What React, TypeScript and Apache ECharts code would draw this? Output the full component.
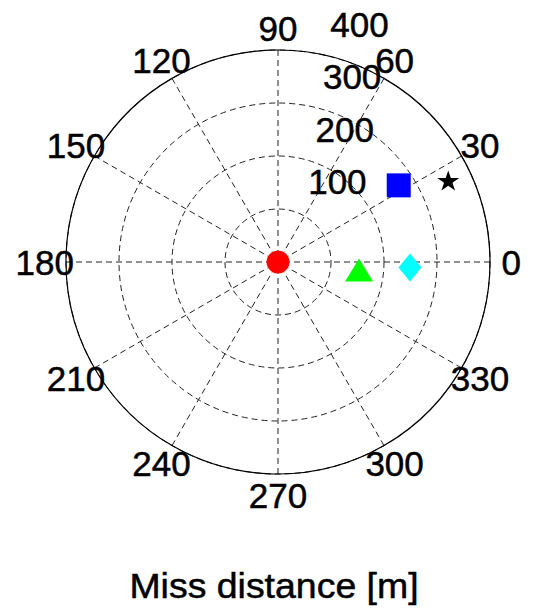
import React, { useEffect, useRef } from 'react';
import * as echarts from 'echarts';

// Axis ticks
const angleTicks = [0, 30, 60, 90, 120, 150, 180, 210, 240, 270, 300, 330];
const radiusTicks = [100, 200, 300, 400];
const radiusMax = 400;
const radialLabelAngle = 82;
const angleLabelRadius = 440;

// Markers: miss distance [m] and bearing [deg]
const seriesNames = ['Origin', 'Shot A', 'Shot B', 'Shot C', 'Shot D'];
const missRadius = [0, 153.6, 249.3, 269.8, 356.2];
const missAngle = [0, 354.4, 357.6, 32.4, 25.6];

const titleText = 'Miss distance [m]';

const starPath =
  'path://M50,0 L61.8,36.3 L100,36.3 L69.1,58.8 L80.9,95.1 L50,72.7 L19.1,95.1 L30.9,58.8 L0,36.3 L38.2,36.3 Z';
const markerSymbols = ['circle', 'triangle', 'diamond', 'rect', starPath];
const markerColors = ['#ff0000', '#00ff00', '#00ffff', '#0000ff', '#000000'];
const markerSizes = [[23, 23], [28, 23], [23, 28], [24, 24], [22, 20]];

const FONT = '"Liberation Sans", Arial, Helvetica, sans-serif';

export default function App() {
  const ref = useRef<HTMLDivElement>(null);

  useEffect(() => {
    if (!ref.current) return;
    const chart = echarts.init(ref.current, undefined, { renderer: 'svg' });

    const markerSeries = seriesNames.map((name, i) => ({
      type: 'scatter',
      name,
      coordinateSystem: 'polar',
      data: [[missRadius[i], missAngle[i]]],
      symbol: markerSymbols[i],
      symbolSize: markerSizes[i],
      itemStyle: { color: markerColors[i], opacity: 1 },
      emphasis: { disabled: true },
      silent: true,
      clip: false,
      z: 5,
    }));

    const labelBase = {
      show: true,
      position: 'inside',
      color: '#000000',
      opacity: 1,
      fontSize: 35,
      fontFamily: FONT,
      align: 'center',
      verticalAlign: 'middle',
      textBorderColor: '#000000',
      textBorderWidth: 0.5,
    };

    const labelSeries = (name: string, data: number[][], extra: any) => ({
      type: 'scatter',
      name,
      coordinateSystem: 'polar',
      data,
      symbolSize: 0.01,
      itemStyle: { color: '#000000', opacity: 1 },
      clip: false,
      silent: true,
      emphasis: { disabled: true },
      label: { ...labelBase, ...extra },
    });

    const option: any = {
      animation: false,
      backgroundColor: '#ffffff',
      polar: { center: [278, 262], radius: 212 },
      angleAxis: {
        type: 'value',
        min: 0,
        max: 360,
        interval: 30,
        startAngle: 0,
        clockwise: false,
        axisLine: { show: true, lineStyle: { color: '#000', width: 1.2 } },
        axisTick: { show: false },
        axisLabel: { show: false },
        splitLine: { show: true, lineStyle: { color: '#222', width: 1, type: [6, 4] } },
      },
      radiusAxis: {
        type: 'value',
        min: 0,
        max: radiusMax,
        interval: 100,
        axisLine: { show: false },
        axisTick: { show: false },
        axisLabel: { show: false },
        splitLine: { show: true, lineStyle: { color: '#222', width: 1, type: [6, 4] } },
      },
      graphic: [
        {
          type: 'text',
          x: 274,
          y: 586,
          scaleX: 1.07,
          style: {
            text: titleText,
            fill: '#000',
            stroke: '#000',
            lineWidth: 0.5,
            font: `35px ${FONT}`,
            textAlign: 'center',
            textVerticalAlign: 'middle',
          },
        },
      ],
      series: [
        labelSeries(
          'angleLabels',
          angleTicks.map((a) => [angleLabelRadius, a]),
          { formatter: (p: any) => String(p.value[1]) }
        ),
        labelSeries(
          'radialLabels',
          radiusTicks.map((r) => [r, radialLabelAngle]),
          { offset: [52, -28], formatter: (p: any) => String(p.value[0]) }
        ),
        ...markerSeries,
      ],
    };

    chart.setOption(option);
    return () => chart.dispose();
  }, []);

  return (
    <div
      ref={ref}
      style={{ position: 'absolute', left: 0, top: 0, width: 533, height: 614 }}
    />
  );
}
